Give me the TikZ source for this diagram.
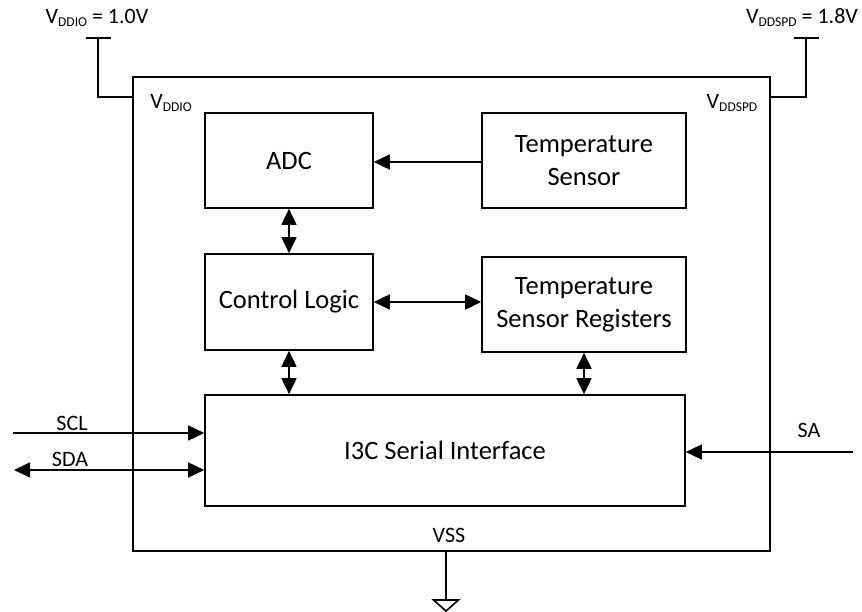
\documentclass[tikz,border=0pt]{standalone}
\usepackage{fontspec}
\setmainfont{Carlito}
\usetikzlibrary{arrows.meta}
\newcommand{\vsub}[1]{\raisebox{-3pt}{\fontsize{13.5}{14}\selectfont #1}}

\begin{document}
\begin{tikzpicture}[
		x=1pt,y=-1pt,
		line width=1.6pt,
		block/.style={draw,inner sep=0pt,align=center,font=\fontsize{26.5}{33}\selectfont},
		label/.style={inner sep=0pt,font=\fontsize{22}{26}\selectfont},
		>={Triangle[length=16pt,width=15pt]}
		]
		\useasboundingbox (0,0) rectangle (862,612);
		% chip outline and blocks
		\node[draw,inner sep=0pt,minimum width=637pt,minimum height=474pt] (chip) at (451.5,314) {};
		\node[block,minimum width=168pt,minimum height=95pt] (adc) at (289,160.5) {ADC};
		\node[block,minimum width=204pt,minimum height=95pt] (tsens) at (584,160.5) {Temperature\\Sensor};
		\node[block,minimum width=168pt,minimum height=96pt] (ctrl) at (289,302) {Control Logic};
		\node[block,minimum width=204pt,minimum height=95pt] (tsreg) at (584,304.5) {Temperature\\Sensor Registers};
		\node[block,minimum width=480pt,minimum height=111pt] (i3c) at (445,450.5) {I3C Serial Interface};
		% internal connections
		\draw[->] ([yshift=-1.5pt]tsens.west) -- ([yshift=-1.5pt]adc.east);
		\draw[<->] (adc) -- (ctrl);
		\draw[<->] (ctrl.east) -- (ctrl.east -| tsreg.west);
		\draw[<->] (ctrl.south) -- (ctrl.south |- i3c.north);
		\draw[<->] (tsreg.south) -- (tsreg.south |- i3c.north);
		% pins
		\coordinate (scl) at (13,433);
		\coordinate (sda) at (14,470);
		\coordinate (sa) at (853,452);
		\draw[->] (scl) -- (scl -| i3c.west);
		\draw[<->] (sda) -- (sda -| i3c.west);
		\draw[->] (sa) -- (sa -| i3c.east);
		\node[label] (scllbl) at (72,423) {SCL};
		\node[label] (sdalbl) at (70,459) {SDA};
		\node[label] (salbl) at (809,430) {SA};
		% supplies
		\coordinate (vio) at (98,38);
		\coordinate (vspd) at (806,38);
		\draw (vio) |- ([yshift=-21pt]chip.north west);
		\draw (vspd) |- ([yshift=-21pt]chip.north east);
		\draw ([xshift=-12.5pt]vio) -- ([xshift=12.5pt]vio);
		\draw ([xshift=-12.5pt]vspd) -- ([xshift=12.5pt]vspd);
		\node[label] (violbl) at (97,18) {V\vsub{DDIO} = 1.0V};
		\node[label] (vspdlbl) at (802,18) {V\vsub{DDSPD} = 1.8V};
		\node[label] (viopin) at (171,103) {V\vsub{DDIO}};
		\node[label] (vspdpin) at (732,103) {V\vsub{DDSPD}};
		% ground
		\coordinate (gnd) at (446,600);
		\draw (chip.south -| gnd) -- (gnd);
		\draw (gnd) -- ++(-12.5,0) -- ++(12.5,11) -- ++(12.5,-11) -- cycle;
		\node[label] (vsslbl) at (449,535) {VSS};
	\end{tikzpicture}
\end{document}
